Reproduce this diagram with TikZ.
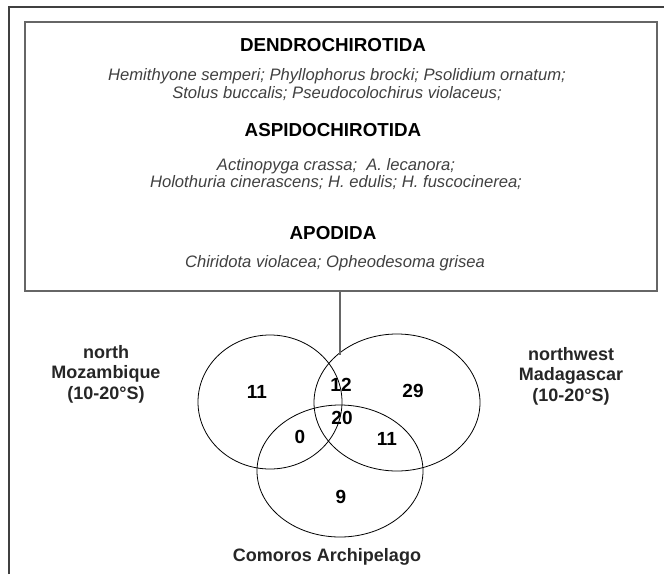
\documentclass[tikz,border=0pt]{standalone}
\usepackage{fontspec}
\setmainfont{Liberation Sans}
\usetikzlibrary{shapes.geometric}
\tikzset{
  hdr/.style={font=\fontsize{18.8}{20}\selectfont\bfseries, inner sep=0pt},
  spp/.style={font=\fontsize{16.6}{17.5}\selectfont\itshape, text=black!75, inner sep=0pt, align=center},
  num/.style={font=\fontsize{19}{20}\selectfont\bfseries, inner sep=0pt},
  lab/.style={font=\fontsize{18}{20.5}\selectfont\bfseries, text=black!85, inner sep=0pt, align=center},
  setell/.style={ellipse, draw, line width=0.8pt, inner sep=0pt, outer sep=0pt},
}
\begin{document}
\begin{tikzpicture}[x=1pt,y=-1pt]
\useasboundingbox (0,0) rectangle (664,574);
% outer frame (left and top only)
\draw[line width=2.2pt, black!75] (9,574) -- (9,7) -- (664,7);
% list box
\node[draw=black!60, line width=2pt, minimum width=632pt, minimum height=269pt, inner sep=0pt, outer sep=0pt] (box) at (341,156.5) {};
\node[hdr] (h1) at (333,45) {DENDROCHIROTIDA};
\node[spp] (s1) at (337,84.5) {Hemithyone semperi; Phyllophorus brocki; Psolidium ornatum;\\Stolus buccalis; Pseudocolochirus violaceus;};
\node[hdr] (h2) at (333,130) {ASPIDOCHIROTIDA};
\node[spp] (s2) at (336,174) {Actinopyga crassa;\ \ A. lecanora;\\Holothuria cinerascens; H. edulis; H. fuscocinerea;};
\node[hdr] (h3) at (333,233) {APODIDA};
\node[spp] (s3) at (335,263) {Chiridota violacea; Opheodesoma grisea};
% Venn
\node[setell, minimum width=144pt, minimum height=134pt] (moz) at (270,402) {};
\node[setell, minimum width=166pt, minimum height=137pt] (mad) at (397,402.5) {};
\node[setell, minimum width=166pt, minimum height=132pt] (com) at (340,471) {};
\coordinate (meet) at (340,355);
\draw[black!60, line width=1.4pt] (box.south -| meet) -- (meet);
% counts
\node[num] (n1) at (257,392) {11};
\node[num] (n2) at (341,385) {12};
\node[num] (n3) at (413,391) {29};
\node[num] (n4) at (342,418) {20};
\node[num] (n5) at (300,437) {0};
\node[num] (n6) at (387,439) {11};
\node[num] (n7) at (341,497) {9};
% region labels
\node[lab] (lmoz) at (106,374) {north\\Mozambique\\(10-20°S)};
\node[lab] (lmad) at (571,376) {northwest\\Madagascar\\(10-20°S)};
\node[lab] (lcom) at (327,557) {Comoros Archipelago};
\end{tikzpicture}
\end{document}
